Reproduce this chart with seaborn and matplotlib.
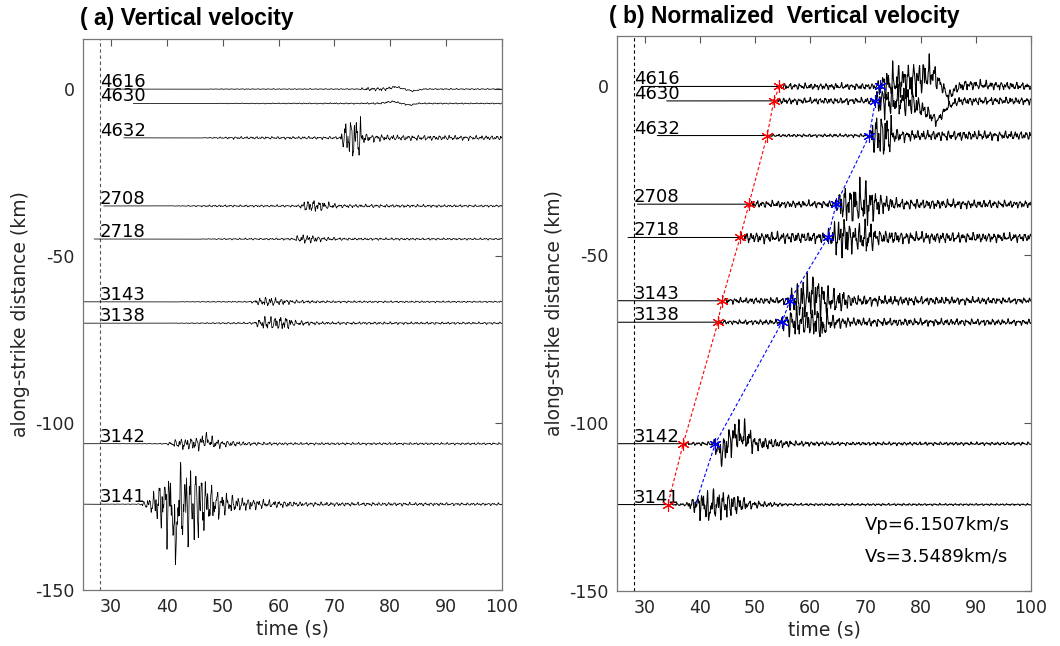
import numpy as np
import pandas as pd
import matplotlib
matplotlib.use("Agg")
import matplotlib.pyplot as plt
import seaborn as sns

# ---------------- data ----------------
STATIONS = ['4616', '4630', '4632', '2708', '2718', '3143', '3138', '3142', '3141']
OFFSETS_KM = [0.0, -4.3, -14.6, -35.0, -44.9, -63.7, -70.1, -106.2, -124.3]
TRACE_START_S = [29.5, 34.0, 32.3, 28.7, 27.0, 25.0, 25.0, 25.0, 25.0]
P_PICK_S = [54.4, 53.4, 52.2, 48.9, 47.3, 44.0, 43.3, 37.0, 34.2]
S_PICK_S = [72.6, 71.8, 70.7, 64.7, 63.2, 56.3, 54.9, 42.8, 39.2]
REF_TIME_S = 28.0
VP_TEXT = 'Vp=6.1507km/s'
VS_TEXT = 'Vs=3.5489km/s'
X_TICKS = [30, 40, 50, 60, 70, 80, 90, 100]
Y_TICKS = [0, -50, -100, -150]

# amplitude envelopes (time s, half peak-to-peak km) -- panel (a) raw
ENV_A = [
    [(25, 0), (45, 0), (50, 0.1), (74, 0.15), (76, 0.5), (79, 0.5), (81, 0.3), (85, 0.2), (100, 0.15)],
    [(25, 0), (45, 0), (50, 0.1), (75, 0.2), (79, 0.3), (85, 0.2), (100, 0.15)],
    [(25, 0), (45, 0), (52, 0.35), (71, 0.4), (72, 5), (73, 6.5), (74.5, 6.5), (75.5, 1.2), (80, 0.8), (100, 0.6)],
    [(25, 0), (40, 0), (48, 0.3), (63.5, 0.3), (65, 1.8), (67, 1.8), (69, 1.0), (71, 0.5), (100, 0.3)],
    [(25, 0), (45, 0), (50, 0.2), (62.5, 0.3), (64, 1.3), (66, 1.2), (68, 0.6), (72, 0.35), (100, 0.25)],
    [(25, 0), (40, 0), (45, 0.1), (55, 0.2), (56.5, 1.0), (58, 1.5), (60, 1.0), (63, 0.5), (70, 0.3), (100, 0.2)],
    [(25, 0), (40, 0), (45, 0.15), (55.5, 0.3), (57, 1.8), (59, 2.0), (61.5, 2.0), (63, 0.8), (68, 0.4), (100, 0.3)],
    [(25, 0), (35, 0.05), (40, 0.2), (42, 1.5), (44, 1.8), (47, 2.2), (50, 1.0), (55, 0.5), (62, 0.35), (100, 0.3)],
    [(25, 0), (35, 0.1), (37, 2.0), (38.5, 6), (40, 11), (42, 12), (44, 12), (46, 11), (47.5, 6), (50, 3.5),
     (53, 2.0), (58, 1.2), (65, 0.6), (100, 0.35)],
]
# slow baseline excursions and single large swings (time s, km) -- panel (a)
TREND_A = [
    [(79, 0), (81, 0.7), (82.5, 0), (84, -0.6), (86, 0)],
    [(78, 0), (80.5, 0.6), (82, 0), (83.5, -0.5), (85, 0)],
    [], [], [], [], [], [(45.5, 0), (47, 1.2), (48.5, 0)],
    [(41.15, 0), (41.5, -20), (41.85, 0)],
]
# panel (b) normalised
ENV_B = [
    [(25, 0), (54.3, 0), (54.6, 0.9), (72, 0.9), (73, 4), (75, 5), (82, 5), (83.5, 1.8), (86, 1.5), (92, 1.3), (100, 1.0)],
    [(25, 0), (53.3, 0), (53.6, 0.9), (71.5, 0.9), (72.5, 4.5), (78, 4.5), (80, 2.5), (84, 1.2), (100, 1.0)],
    [(25, 0), (52.1, 0), (52.4, 0.4), (70.5, 0.5), (71.5, 5.5), (72.5, 7), (74.5, 6), (75.5, 2), (78, 1.5), (100, 1.2)],
    [(25, 0), (48.8, 0), (49.1, 1.0), (64.5, 1.0), (65.5, 5), (68, 6), (70, 7), (72.5, 3), (76, 1.5), (100, 1.0)],
    [(25, 0), (47.2, 0), (47.5, 1.5), (63, 1.6), (64.5, 5), (66, 6.5), (68, 3.5), (70.5, 5.5), (72, 2.2), (78, 1.6), (100, 1.2)],
    [(25, 0), (43.9, 0), (44.2, 0.8), (55.5, 1.0), (57, 4.5), (59, 6.5), (61.5, 6.5), (63, 4), (66, 3), (68, 1.5), (80, 1.2), (100, 0.8)],
    [(25, 0), (43.2, 0), (43.5, 0.6), (54.5, 0.8), (56, 4), (58, 4.5), (60, 4), (62.3, 5), (64, 2), (68, 1.2), (100, 0.8)],
    [(25, 0), (36.9, 0), (37.2, 0.4), (42, 0.6), (43, 2.5), (44, 4.5), (46, 4.5), (48.5, 4.5), (50, 2.2), (53, 1.5), (57, 0.8), (65, 0.5), (100, 0.45)],
    [(25, 0), (34.1, 0), (34.4, 0.3), (37.5, 0.4), (39, 2.5), (40.5, 4.5), (43, 4.5), (45, 4), (47, 2.8), (49, 1.3), (52, 0.8), (56, 0.35), (100, 0.25)],
]
TREND_B = [
    [(72, 0), (76, 1.5), (80, 2.5), (82, 4), (83.5, 1), (85, -3), (86.5, -0.5), (88, 0.5), (100, 0)],
    [(78, 0), (80, -2), (83, -6), (85, -1.5), (87, 0)],
    [],
    [],
    [],
    [(58, 0), (60.5, 2.0), (63, 0)],
    [(61.8, 0), (62.3, -3), (62.8, 0)],
    [(42.5, 0), (44, -3), (45, 0), (46.5, 2.5), (48.5, 2), (50, 0)],
    [(41.3, 0), (41.6, -4), (41.9, 0)],
]

# ---------------- build traces ----------------
DT = 0.04


def knots(kn, t):
    if not kn:
        return np.zeros_like(t)
    kt = np.array([k[0] for k in kn], float)
    kv = np.array([k[1] for k in kn], float)
    return np.interp(t, kt, kv, left=0.0, right=0.0)


def oscillation(t, k):
    return (0.50 * np.sin(2 * np.pi * 1.07 * t + 0.7 * k)
            + 0.35 * np.sin(2 * np.pi * 1.83 * t + 1.9 * k + 0.4)
            + 0.25 * np.sin(2 * np.pi * 2.71 * t + 2.3 * k + 1.1)
            + 0.15 * np.sin(2 * np.pi * 3.90 * t + 0.5 * k)
            + 0.12 * np.sin(2 * np.pi * 5.30 * t + 1.3 * k + 0.2))


def build(env, trend):
    rows = []
    for k, st in enumerate(STATIONS):
        t = np.arange(TRACE_START_S[k], 100.0 + DT / 2, DT)
        y = OFFSETS_KM[k] + knots(env[k], t) * oscillation(t, k) + knots(trend[k], t)
        rows.append(pd.DataFrame({'time': t, 'y': y, 'station': st}))
    return pd.concat(rows, ignore_index=True)


df_a = build(ENV_A, TREND_A)
df_b = build(ENV_B, TREND_B)

# ---------------- plot ----------------
sns.set_style('white')
plt.rcParams['font.family'] = ['DejaVu Sans']
plt.rcParams['axes.unicode_minus'] = False

fig = plt.figure(figsize=(10.6, 6.46), dpi=100)
ax_a = fig.add_axes([83 / 1060, 56 / 646, 419 / 1060, 551 / 646])
ax_b = fig.add_axes([617 / 1060, 55 / 646, 414 / 1060, 555 / 646])

for ax, df, lw in ((ax_a, df_a, 0.55), (ax_b, df_b, 0.75)):
    sns.lineplot(data=df, x='time', y='y', units='station', estimator=None, sort=False,
                 color='black', lw=lw, ax=ax, legend=False)
    ax.set_xlim(25, 100)
    ax.set_ylim(-150, 15)
    ax.set_xticks(X_TICKS)
    ax.set_yticks(Y_TICKS)
    ax.set_xlabel('time (s)', fontsize=13.5, color='#262626', labelpad=2)
    ax.set_ylabel('along-strike distance (km)', fontsize=13.5, color='#262626', labelpad=4)
    ax.tick_params(direction='in', length=5, width=0.8, top=True, right=True,
                   labelsize=12.5, colors='#555555', labelcolor='#262626', pad=6)
    for sp in ax.spines.values():
        sp.set_color('#777777')
        sp.set_linewidth(0.9)
    ax.axvline(REF_TIME_S, color='black' if ax is ax_b else '#555555', lw=0.8, ls=(0, (3, 2.5)), zorder=1)
    for k, st in enumerate(STATIONS):
        ax.text(REF_TIME_S + 0.05, OFFSETS_KM[k] + 0.6, st, fontsize=13, color='black',
                ha='left', va='baseline', zorder=5)

# P and S picks
ax_b.plot(P_PICK_S, OFFSETS_KM, color='red', ls=(0, (3, 2)), lw=0.8,
          marker=(6, 2, 0), ms=9, mew=0.8, zorder=6)
ax_b.plot(S_PICK_S, OFFSETS_KM, color='blue', ls=(0, (3, 2)), lw=0.8,
          marker=(6, 2, 0), ms=9, mew=0.8, markevery=list(range(len(STATIONS) - 1)), zorder=6)

ax_b.text(69.9, -130.3, VP_TEXT, fontsize=13, ha='left', va='center', color='black')
ax_b.text(69.9, -139.8, VS_TEXT, fontsize=13, ha='left', va='center', color='black')

fig.text(80 / 1060, 1 - 18 / 646, '( a) Vertical velocity', fontsize=16.5, fontweight='bold',
         family='Liberation Sans', ha='left', va='center', color='black')
fig.text(609 / 1060, 1 - 17 / 646, '( b) Normalized  Vertical velocity', fontsize=16.5, fontweight='bold',
         family='Liberation Sans', ha='left', va='center', color='black')

fig.savefig('out.png', dpi=100)
